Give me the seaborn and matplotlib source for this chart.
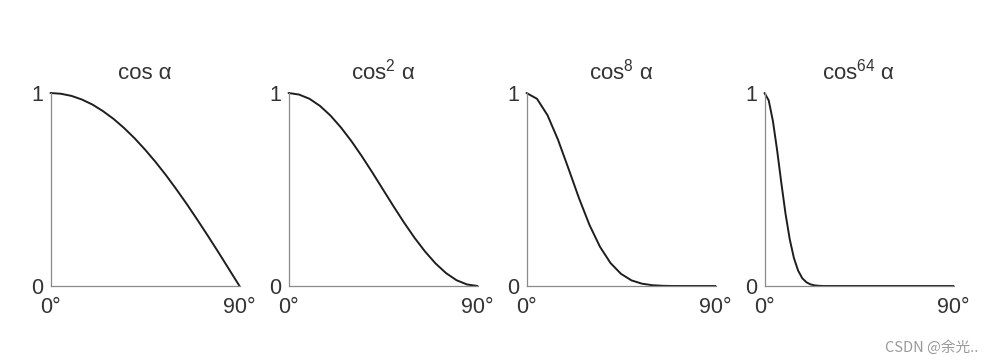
import pandas as pd
import seaborn as sns
import matplotlib.pyplot as plt

# angle samples (degrees) and curve heights
angles = [0, 5, 10, 15, 20, 25, 30, 35, 40, 45, 50, 55, 60, 65, 70, 75, 80, 85, 90]
cos1 = [1.000, 0.996, 0.985, 0.966, 0.940, 0.906, 0.866, 0.819, 0.766, 0.707,
        0.643, 0.574, 0.500, 0.423, 0.342, 0.259, 0.174, 0.087, 0.000]
cos2 = [1.000, 0.992, 0.970, 0.933, 0.883, 0.821, 0.750, 0.671, 0.587, 0.500,
        0.413, 0.329, 0.250, 0.179, 0.117, 0.067, 0.030, 0.008, 0.000]
cos8 = [1.000, 0.970, 0.885, 0.758, 0.608, 0.455, 0.316, 0.203, 0.119, 0.063,
        0.029, 0.012, 0.004, 0.001, 0.000, 0.000, 0.000, 0.000, 0.000]
angles64 = [0, 2, 4, 6, 8, 10, 12, 14, 16, 18, 20, 22, 24, 26, 28, 30, 90]
cos64 = [1.000, 0.962, 0.855, 0.704, 0.535, 0.375, 0.243, 0.145, 0.080, 0.040,
         0.019, 0.008, 0.003, 0.001, 0.000, 0.000, 0.000]

titles = [r"cos α", r"cos$^{2}$ α", r"cos$^{8}$ α", r"cos$^{64}$ α"]
panels = [(angles, cos1), (angles, cos2), (angles, cos8), (angles64, cos64)]

sns.set_style("white")
plt.rcParams["font.family"] = ["Liberation Sans", "DejaVu Sans"]
plt.rcParams["mathtext.fontset"] = "custom"
plt.rcParams["mathtext.rm"] = "Liberation Sans"
plt.rcParams["mathtext.it"] = "Liberation Sans"

fig = plt.figure(figsize=(9.86, 3.64), dpi=100)
axis_grey = "#8a8a8a"
text_col = "#333333"

for i, (title, (xs, ys)) in enumerate(zip(titles, panels)):
    left = (50.5 + 238 * i) / 986
    ax = fig.add_axes([left, 1 - 286 / 364, 189 / 986, 193 / 364])
    df = pd.DataFrame({"angle": xs, "value": ys})
    sns.lineplot(data=df, x="angle", y="value", ax=ax, color="#1e1e1e",
                 linewidth=1.4, clip_on=False)
    ax.set_xlim(0, 90)
    ax.set_ylim(0, 1)
    sns.despine(ax=ax)
    for side in ["left", "bottom"]:
        ax.spines[side].set_color(axis_grey)
        ax.spines[side].set_linewidth(0.9)
    ax.set_xticks([0, 90])
    ax.set_xticklabels(["0°", "90°"])
    ax.set_yticks([0, 1])
    ax.set_yticklabels(["0", "1"])
    ax.tick_params(axis="x", length=0, pad=8, labelsize=15.5, colors=text_col)
    ax.tick_params(axis="y", length=0, pad=5, labelsize=15.5, colors=text_col)
    ax.set_xlabel("")
    ax.set_ylabel("")
    ax.set_title(title, fontsize=16, color=text_col, pad=10)

fig.text(0.992, 0.045, "CSDN @余光..", ha="right", va="center", fontsize=10.5,
         color="#999999", family=["Noto Sans CJK SC", "DejaVu Sans"])

plt.savefig("out.png", dpi=100, facecolor="white")
